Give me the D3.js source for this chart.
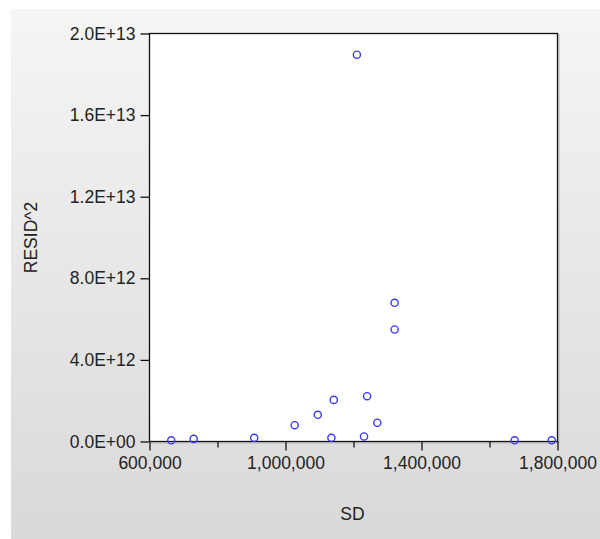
<!DOCTYPE html>
<html>
<head>
<meta charset="utf-8">
<script src="https://cdn.jsdelivr.net/npm/d3@7"></script>
<style>
  html, body { margin: 0; padding: 0; background: #ffffff; }
  svg { display: block; }
  text { font-family: "Liberation Sans", Arial, sans-serif; fill: #222; }
</style>
</head>
<body>
<script>
// Scatter of squared residuals against SD
const sdValues = [664000, 730000, 908000, 1027000, 1095000, 1135000, 1142000, 1210000,
                  1231000, 1240000, 1270000, 1321000, 1321000, 1674000, 1783000];
const residSq  = [0.06e12, 0.13e12, 0.18e12, 0.80e12, 1.31e12, 0.18e12, 2.04e12, 18.96e12,
                  0.245e12, 2.22e12, 0.92e12, 6.80e12, 5.49e12, 0.06e12, 0.06e12];
const xTicks = [600000, 1000000, 1400000, 1800000];
const xMinorTicks = [800000, 1200000, 1600000];
const yTicks = [0, 4e12, 8e12, 1.2e13, 1.6e13, 2.0e13];
const yTickLabels = ["0.0E+00", "4.0E+12", "8.0E+12", "1.2E+13", "1.6E+13", "2.0E+13"];
const xTitle = "SD";
const yTitle = "RESID^2";

const W = 600, H = 539;
const plot = { left: 149.5, right: 557.5, top: 33.5, bottom: 441.5 };
const fontSize = "17.5px";

const svg = d3.select("body").append("svg").attr("width", W).attr("height", H);

const defs = svg.append("defs");
const grad = defs.append("linearGradient").attr("id", "bg").attr("x1", 0).attr("y1", 0).attr("x2", 0).attr("y2", 1);
grad.append("stop").attr("offset", "0%").attr("stop-color", "#f5f5f5");
grad.append("stop").attr("offset", "100%").attr("stop-color", "#d9d9d9");

svg.append("rect").attr("x", 11).attr("y", 9).attr("width", W - 11).attr("height", H - 9)
  .attr("fill", "url(#bg)");

const x = d3.scaleLinear().domain([600000, 1800000]).range([plot.left, plot.right]);
const y = d3.scaleLinear().domain([0, 2e13]).range([plot.bottom, plot.top]);

// plot frame with a faint shadow
svg.append("rect").attr("x", plot.left + 1.5).attr("y", plot.top + 1.5)
  .attr("width", plot.right - plot.left).attr("height", plot.bottom - plot.top)
  .attr("fill", "none").attr("stroke", "#b8b8b8").attr("stroke-width", 1);
svg.append("rect").attr("x", plot.left).attr("y", plot.top)
  .attr("width", plot.right - plot.left).attr("height", plot.bottom - plot.top)
  .attr("fill", "#ffffff").attr("stroke", "#111").attr("stroke-width", 1.3);

// x axis
const xAxis = d3.axisBottom(x).tickValues(xTicks).tickSize(9).tickPadding(6)
  .tickFormat(d3.format(",.0f"));
const gx = svg.append("g").attr("transform", `translate(0,${plot.bottom})`).call(xAxis);
gx.select(".domain").remove();
gx.selectAll("line").attr("stroke", "#111").attr("stroke-width", 1.3);
gx.selectAll("text").style("font-size", fontSize).attr("fill", "#222");

const xMinor = d3.axisBottom(x).tickValues(xMinorTicks).tickSize(6).tickFormat("");
const gxm = svg.append("g").attr("transform", `translate(0,${plot.bottom})`).call(xMinor);
gxm.select(".domain").remove();
gxm.selectAll("line").attr("stroke", "#111").attr("stroke-width", 1.3);

// y axis
const yAxis = d3.axisLeft(y).tickValues(yTicks).tickSize(9).tickPadding(5)
  .tickFormat((d, i) => yTickLabels[i]);
const gy = svg.append("g").attr("transform", `translate(${plot.left},0)`).call(yAxis);
gy.select(".domain").remove();
gy.selectAll("line").attr("stroke", "#111").attr("stroke-width", 1.3);
gy.selectAll("text").style("font-size", fontSize).attr("fill", "#222");

// points
svg.append("g").selectAll("circle")
  .data(sdValues.map((v, i) => [v, residSq[i]]))
  .join("circle")
  .attr("cx", d => x(d[0]))
  .attr("cy", d => y(d[1]))
  .attr("r", 3.6)
  .attr("fill", "none")
  .attr("stroke", "#3a3aff")
  .attr("stroke-width", 1.4);

// axis titles
svg.append("text").attr("x", (plot.left + plot.right) / 2 - 1).attr("y", 520)
  .attr("text-anchor", "middle").style("font-size", fontSize).text(xTitle);
svg.append("text").attr("transform", `translate(37,${(plot.top + plot.bottom) / 2}) rotate(-90)`)
  .attr("text-anchor", "middle").style("font-size", fontSize).text(yTitle);
</script>
</body>
</html>
